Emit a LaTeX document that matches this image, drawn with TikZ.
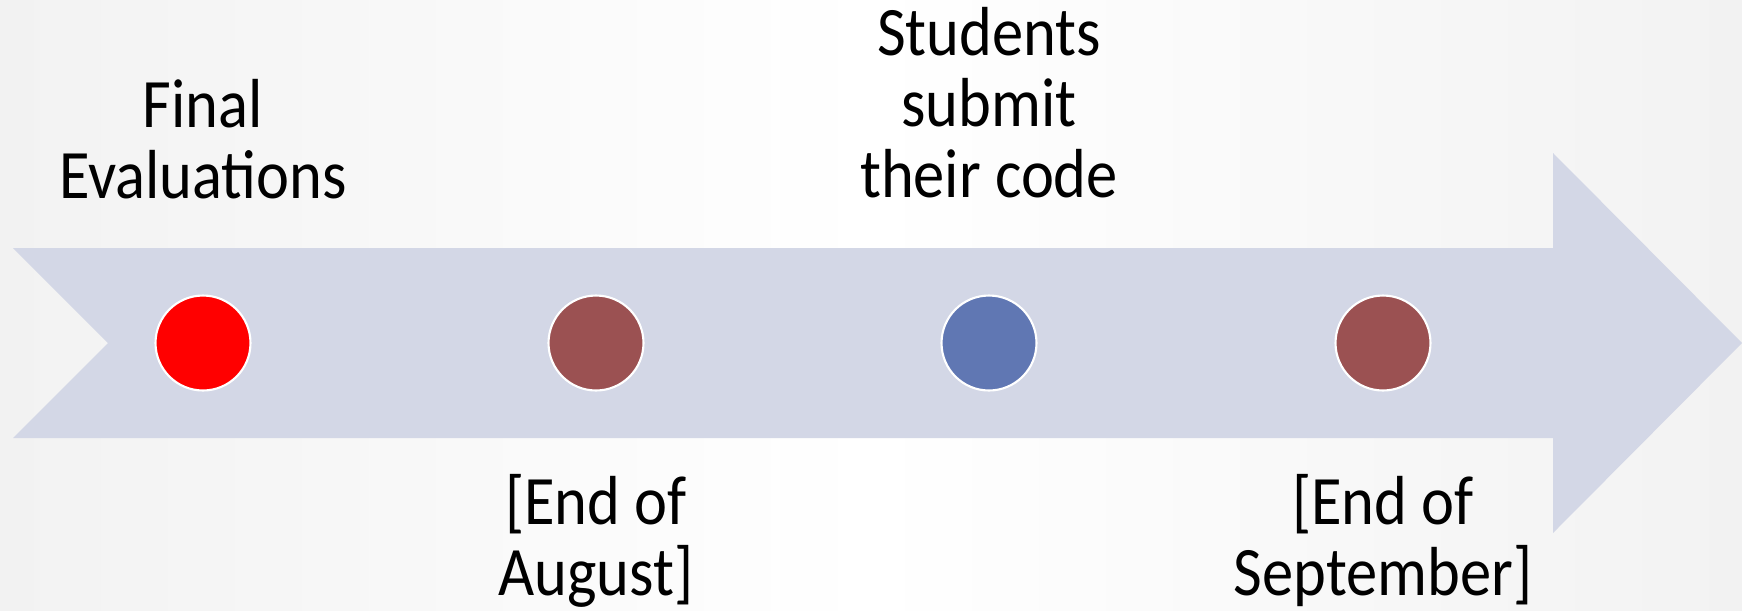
\documentclass[tikz,border=0pt]{standalone}
\usepackage{fontspec}
\setmainfont[FakeStretch=0.9]{Carlito}
\usetikzlibrary{positioning}
\definecolor{tlbg}{HTML}{F2F2F2}
\definecolor{tlband}{HTML}{D3D7E6}
\definecolor{tlred}{HTML}{FF0000}
\definecolor{tlbrown}{HTML}{9B5152}
\definecolor{tlblue}{HTML}{6077B3}

\begin{document}
\begin{tikzpicture}[x=0.02cm, y=-0.02cm,
    dot/.style={circle, draw=white, line width=1.2pt, minimum size=1.9cm, inner sep=0pt},
    lbl/.style={align=center, inner sep=0pt, anchor=base,
                font=\fontsize{39.5}{40.4}\selectfont}]
  \useasboundingbox (0,0) rectangle (1742,610);
  \shade[left color=tlbg, right color=tlbg, middle color=white] (0,0) rectangle (1742,610);
  % timeline band
  \fill[tlband] (13,248) -- (1553,248) -- (1553,153) -- (1742,343) -- (1553,533)
        -- (1553,438) -- (13,438) -- (108,343) -- cycle;
  \node[dot, fill=tlred]   (d1) at (203,343)  {};
  \node[dot, fill=tlbrown] (d2) at (596,343)  {};
  \node[dot, fill=tlblue]  (d3) at (989,343)  {};
  \node[dot, fill=tlbrown] (d4) at (1383,343) {};
  % labels (anchor=base sits on the last line)
  \node[lbl] (l1) at (203,198)  {Final\\Evaluations};
  \node[lbl] (l3) at (989,197)  {Students\\submit\\their code};
  \node[lbl] (l2) at (596,595)  {[End of\\August]};
  \node[lbl] (l4) at (1383,595) {[End of\\September]};
\end{tikzpicture}
\end{document}
